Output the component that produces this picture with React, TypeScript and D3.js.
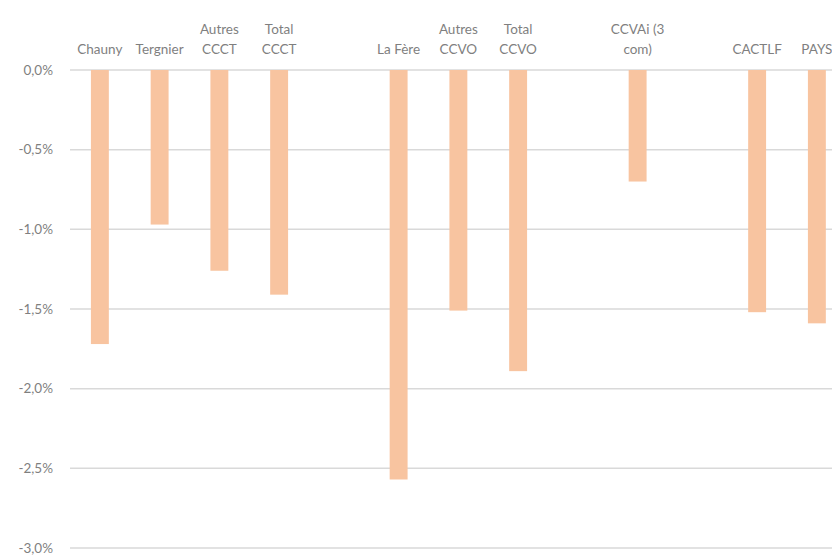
import React from "react";
import * as d3 from "d3";

const categories: string[][] = [
  ["Chauny"],
  ["Tergnier"],
  ["Autres", "CCCT"],
  ["Total", "CCCT"],
  [],
  ["La Fère"],
  ["Autres", "CCVO"],
  ["Total", "CCVO"],
  [],
  ["CCVAi (3", "com)"],
  [],
  ["CACTLF"],
  ["PAYS"],
];
const values: (number | null)[] = [
  -1.72, -0.97, -1.26, -1.41, null, -2.57, -1.51, -1.89, null, -0.7, null, -1.52, -1.59,
];
const yTicks: number[] = [0, -0.5, -1.0, -1.5, -2.0, -2.5, -3.0];

const W = 832;
const H = 557;
const FONT = "Lato, 'Open Sans', sans-serif";
const TEXT = "#7f7f7f";

export default function App() {
  const left = 70;
  const step = 59.75;
  const x = d3
    .scaleBand<number>()
    .domain(categories.map((_, i) => i))
    .range([left, left + step * categories.length])
    .paddingInner(0.7)
    .paddingOuter(0.35);
  const y = d3.scaleLinear().domain([0, -3]).range([70, 548]);
  const fmt = (v: number) => v.toFixed(1).replace(".", ",") + "%";

  return (
    <svg
      width={W}
      height={H}
      style={{ position: "absolute", left: 0, top: 0, background: "#fff" }}
      fontFamily={FONT}
    >
      <rect x={0} y={0} width={W} height={H} fill="#fff" />
      {yTicks.map((t) => (
        <g key={t}>
          <line x1={left} x2={W} y1={y(t)} y2={y(t)} stroke="#d9d9d9" strokeWidth={1.5} />
          <text
            x={53}
            y={y(t)}
            dy="0.35em"
            textAnchor="end"
            fontSize={13.5}
            fill={TEXT}
          >
            {(t === 0 ? "" : "") + fmt(t)}
          </text>
        </g>
      ))}
      {values.map((v, i) =>
        v == null ? null : (
          <rect
            key={i}
            x={x(i)!}
            y={y(0)}
            width={x.bandwidth()}
            height={y(v) - y(0)}
            fill="#f8c4a0"
          />
        )
      )}
      {categories.map((lines, i) => (
        <text
          key={i}
          x={x(i)! + x.bandwidth() / 2}
          textAnchor="middle"
          fontSize={13.5}
          fill={TEXT}
        >
          {lines.map((l, j) => (
            <tspan key={j} x={x(i)! + x.bandwidth() / 2} y={54 - (lines.length - 1 - j) * 20}>
              {l}
            </tspan>
          ))}
        </text>
      ))}
    </svg>
  );
}
